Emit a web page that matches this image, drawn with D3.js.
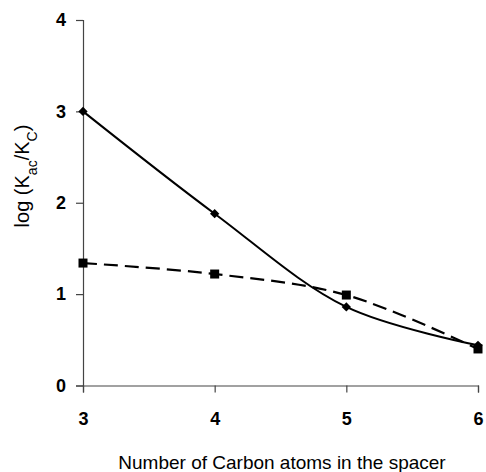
<!DOCTYPE html>
<html>
<head>
<meta charset="utf-8">
<script src="https://d3js.org/d3.v7.min.js"></script>
<style>
  body { margin: 0; background: #fff; }
  text { font-family: "Liberation Sans", Arial, sans-serif; }
  .tick text { font-size: 18px; font-weight: bold; fill: #000; }
  .domain, .tick line { stroke: #444; }
</style>
</head>
<body>
<script>
var width = 486, height = 472;

// carbon atoms in spacer
var carbons = [3, 4, 5, 6];
// log(Kac/Kc), solid line with diamonds
var seriesDiamond = [3.0, 1.88, 0.86, 0.44];
// dashed line with squares
var seriesSquare = [1.34, 1.22, 0.99, 0.40];
var yTicks = [0, 1, 2, 3, 4];

var svg = d3.select("body").append("svg")
    .attr("width", width)
    .attr("height", height);

var x = d3.scaleLinear().domain([3, 6]).range([83, 478]);
var y = d3.scaleLinear().domain([0, 4]).range([385.5, 20]);

// axes
svg.append("g")
    .attr("transform", "translate(0," + y(0) + ")")
    .call(d3.axisBottom(x).tickValues(carbons).tickFormat(d3.format("d")).tickSizeOuter(0).tickSize(7).tickPadding(20));

svg.append("g")
    .attr("transform", "translate(" + x(3) + ",0)")
    .call(d3.axisLeft(y).tickValues(yTicks).tickFormat(d3.format("d")).tickSizeOuter(0).tickSize(7).tickPadding(10));

svg.selectAll(".domain, .tick line").attr("stroke-width", 1.2);

// lines
var line = d3.line()
    .x(function(d) { return x(d[0]); })
    .y(function(d) { return y(d[1]); })
    .curve(d3.curveCatmullRom.alpha(0.5));

svg.append("path")
    .datum(d3.zip(carbons, seriesDiamond))
    .attr("fill", "none")
    .attr("stroke", "#000")
    .attr("stroke-width", 2)
    .attr("d", line);

svg.append("path")
    .datum(d3.zip(carbons, seriesSquare))
    .attr("fill", "none")
    .attr("stroke", "#000")
    .attr("stroke-width", 2.2)
    .attr("stroke-dasharray", "14,7")
    .attr("d", line);

// markers
svg.selectAll(".diamond")
    .data(d3.zip(carbons, seriesDiamond))
    .enter().append("path")
    .attr("class", "diamond")
    .attr("d", d3.symbol().type(d3.symbolDiamond2).size(55))
    .attr("transform", function(d) { return "translate(" + x(d[0]) + "," + y(d[1]) + ")"; })
    .attr("fill", "#000");

svg.selectAll(".square")
    .data(d3.zip(carbons, seriesSquare))
    .enter().append("rect")
    .attr("class", "square")
    .attr("x", function(d) { return x(d[0]) - 4.5; })
    .attr("y", function(d) { return y(d[1]) - 4.5; })
    .attr("width", 9)
    .attr("height", 9)
    .attr("fill", "#000");

// axis titles
svg.append("text")
    .attr("x", 282)
    .attr("y", 469)
    .attr("text-anchor", "middle")
    .attr("font-size", 19)
    .text("Number of Carbon atoms in the spacer");

var yt = svg.append("text")
    .attr("transform", "translate(29,176) rotate(-90)")
    .attr("text-anchor", "middle")
    .attr("font-size", 20);
yt.append("tspan").text("log (K");
yt.append("tspan").attr("baseline-shift", "sub").attr("font-size", 14).text("ac");
yt.append("tspan").text("/K");
yt.append("tspan").attr("baseline-shift", "sub").attr("font-size", 14).text("C");
yt.append("tspan").text(")");
</script>
</body>
</html>
